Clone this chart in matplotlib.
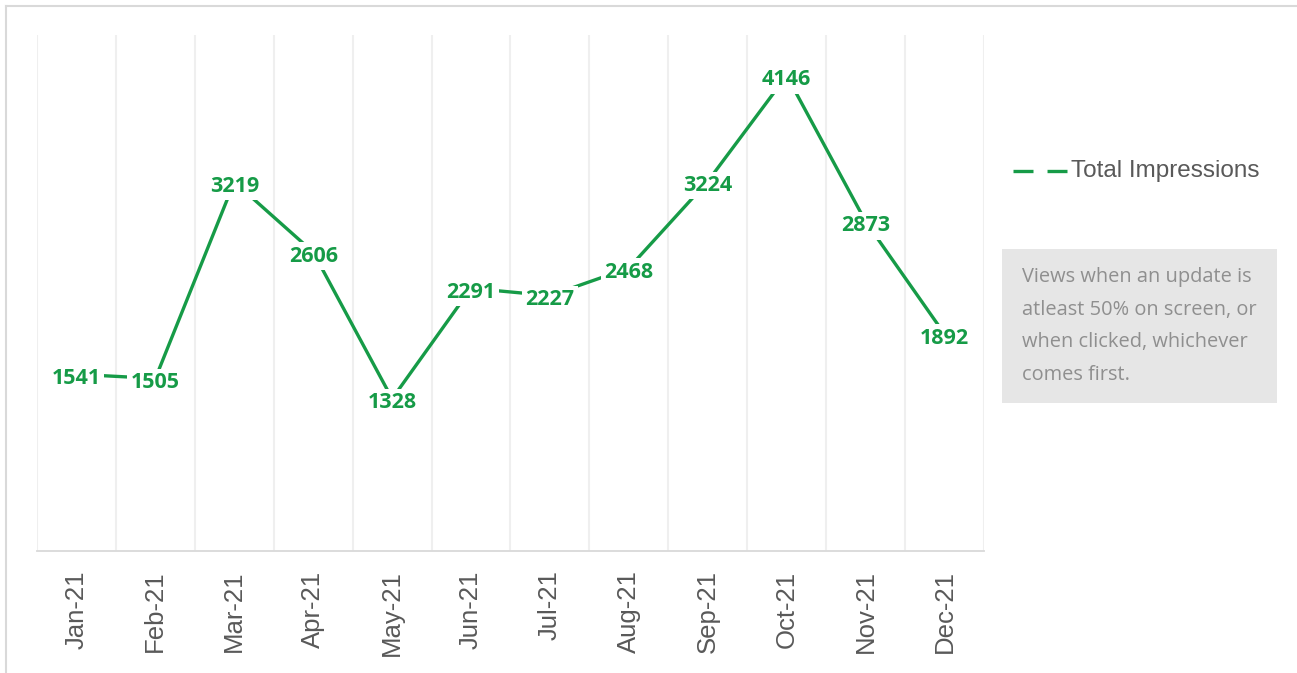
import matplotlib.pyplot as plt
from matplotlib.lines import Line2D
from matplotlib.patches import Rectangle
from matplotlib.transforms import ScaledTranslation

months = ["Jan-21", "Feb-21", "Mar-21", "Apr-21", "May-21", "Jun-21",
          "Jul-21", "Aug-21", "Sep-21", "Oct-21", "Nov-21", "Dec-21"]
impressions = [1541, 1505, 3219, 2606, 1328, 2291, 2227, 2468, 3224, 4146, 2873, 1892]

GREEN = "#169b47"
GRID = "#efefef"
W, H = 1297, 673

fig = plt.figure(figsize=(W / 100, H / 100), dpi=100)
ax = fig.add_axes([37 / W, 1 - 551 / H, (984 - 37) / W, (551 - 35) / H])

x = list(range(len(months)))
lw = 2.4
ax.plot(x, impressions, color=GREEN, lw=lw, solid_capstyle="butt", zorder=2)

for xi, v in zip(x, impressions):
    ax.annotate(str(v), (xi, v), xytext=(0, -3), textcoords="offset points",
                ha="center", va="center", color=GREEN,
                fontsize=15.5, fontweight="bold", family="Open Sans",
                bbox=dict(facecolor="white", edgecolor="none", pad=2.5), zorder=3)

ax.set_xlim(-0.5, len(months) - 0.5)
ax.set_ylim(0, 4500)
ax.set_xticks(x)
ax.set_xticklabels(months, rotation=90, fontsize=18.5, color="#595959",
                   family="Liberation Sans")
shift = ScaledTranslation(2 / 72, 0, fig.dpi_scale_trans)
for lab in ax.get_xticklabels():
    lab.set_transform(lab.get_transform() + shift)
ax.set_xticks([i - 0.5 for i in range(len(months) + 1)], minor=True)
ax.tick_params(axis="x", which="both", length=0, pad=14)
ax.tick_params(axis="y", left=False, labelleft=False)
ax.grid(axis="x", which="minor", color=GRID, lw=1.5)
ax.grid(axis="x", which="major", visible=False)
for s in ["top", "left", "right"]:
    ax.spines[s].set_visible(False)
ax.spines["bottom"].set_color("#d9d9d9")
ax.spines["bottom"].set_linewidth(1.3)

# legend entry, drawn by hand to place it like the original
leg_y = 1 - 171 / H
fig.add_artist(Line2D([1013 / W, 1067 / W], [leg_y, leg_y], color=GREEN, lw=lw,
                      dashes=(14.4 / lw, 10.1 / lw), dash_capstyle="butt",
                      transform=fig.transFigure))
fig.text(1071 / W, leg_y, "Total Impressions", ha="left", va="center",
         color="#595959", fontsize=17.5, family="Liberation Sans")

# note box
fig.patches.append(Rectangle((1002 / W, 1 - 403 / H), 275 / W, 154 / H,
                             transform=fig.transFigure, facecolor="#e6e6e6",
                             edgecolor="none"))
fig.text(1022 / W, 1 - 326 / H,
         "Views when an update is\natleast 50% on screen, or\nwhen clicked, whichever\ncomes first.",
         ha="left", va="center", color="#8f8f8f", fontsize=14.4,
         family="Open Sans", linespacing=1.86)

# outer border (top and left)
fig.add_artist(Line2D([6 / W, 1], [1 - 6 / H, 1 - 6 / H], color="#d9d9d9", lw=1.5,
                      transform=fig.transFigure))
fig.add_artist(Line2D([6 / W, 6 / W], [0, 1 - 6 / H], color="#d9d9d9", lw=1.5,
                      transform=fig.transFigure))

fig.savefig("out.png", dpi=100)
